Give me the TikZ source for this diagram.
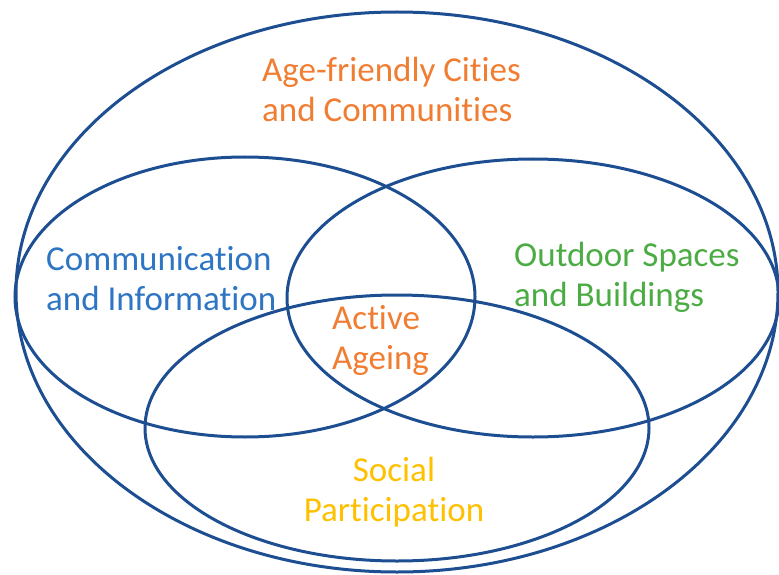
\documentclass[tikz,border=0pt]{standalone}
\usepackage{fontspec}
\setmainfont{Carlito}[Ligatures=NoCommon]
\usepackage{tikz}
\usetikzlibrary{positioning}

\definecolor{ringblue}{RGB}{28,78,145}
\definecolor{agorange}{RGB}{240,125,50}
\definecolor{comblue}{RGB}{46,117,195}
\definecolor{outgreen}{RGB}{76,172,68}
\definecolor{socgold}{RGB}{255,192,0}

\begin{document}
\begin{tikzpicture}[
    x=1pt, y=-1pt,
    ring/.style={draw=ringblue, line width=3pt},
    every node/.style={
        inner sep=0pt,
        font=\fontsize{35}{40}\selectfont
    },
    lbl/.style={align=left, anchor=west}
]
\useasboundingbox (0,0) rectangle (779,575);

% outer set and the three domains
\draw[ring] (397,292) ellipse [x radius=381, y radius=280];
\draw[ring] (245,297) ellipse [x radius=230, y radius=140];
\draw[ring] (533,298) ellipse [x radius=246, y radius=139];
\draw[ring] (397,428) ellipse [x radius=252, y radius=133];

\node[lbl, text=agorange] (cities) at (262,89) {Age-friendly Cities\\and Communities};
\node[lbl, text=comblue] (info) at (46,279) {Communication\\and Information};
\node[lbl, text=outgreen] (outdoor) at (514,277) {Outdoor Spaces\\and Buildings};
\node[lbl, text=agorange] (ageing) at (332,340) {Active\\Ageing};
\node[align=center, text=socgold] (social) at (394,492) {Social\\Participation};
\end{tikzpicture}
\end{document}
